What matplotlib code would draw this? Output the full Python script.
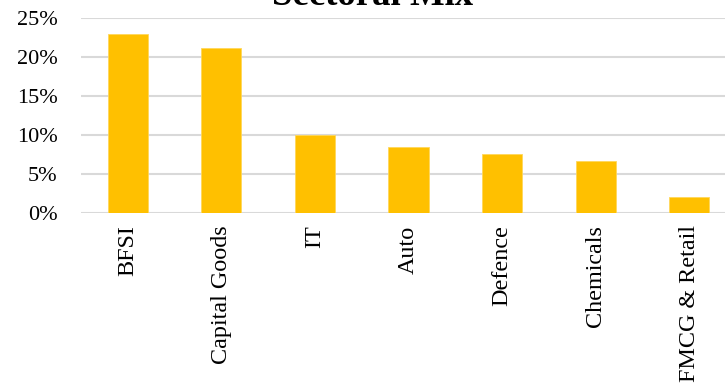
import matplotlib
matplotlib.use("Agg")
import matplotlib.pyplot as plt
from matplotlib.ticker import PercentFormatter

categories = ["BFSI", "Capital Goods", "IT", "Auto", "Defence", "Chemicals", "FMCG & Retail"]
values = [23.0, 21.1, 10.0, 8.45, 7.6, 6.7, 2.0]
yticks = [0, 5, 10, 15, 20, 25]

plt.rcParams['font.family'] = ['Liberation Serif', 'DejaVu Serif']

fig = plt.figure(figsize=(7.25, 3.85), dpi=100)
ax = fig.add_axes([81/725, 1-213/385, (736-81)/725, (213-18)/385])

x = list(range(len(categories)))
ax.bar(x, values, width=0.43, color="#FFC000", edgecolor="#FFD75A", linewidth=0.6, zorder=3)

ax.set_xlim(-0.5, len(categories)-0.5)
ax.set_ylim(0, 25)
ax.set_yticks(yticks)
ax.yaxis.set_major_formatter(PercentFormatter(decimals=0))
ax.set_xticks(x)
ax.set_xticklabels(categories, rotation=90, va='top', ha='center', fontsize=17.4)
ax.tick_params(axis='both', length=0, colors='black')
ax.tick_params(axis='y', labelsize=16, pad=17)
ax.tick_params(axis='x', pad=9)
ax.grid(axis='y', color='#D9D9D9', linewidth=1.5, zorder=0)
for s in ax.spines.values():
    s.set_visible(False)

fig.text(373/725, 1-5/385, "Sectoral Mix", ha='center', va='baseline',
         fontsize=26.5, fontweight='bold')

fig.savefig("out.png", dpi=100)
